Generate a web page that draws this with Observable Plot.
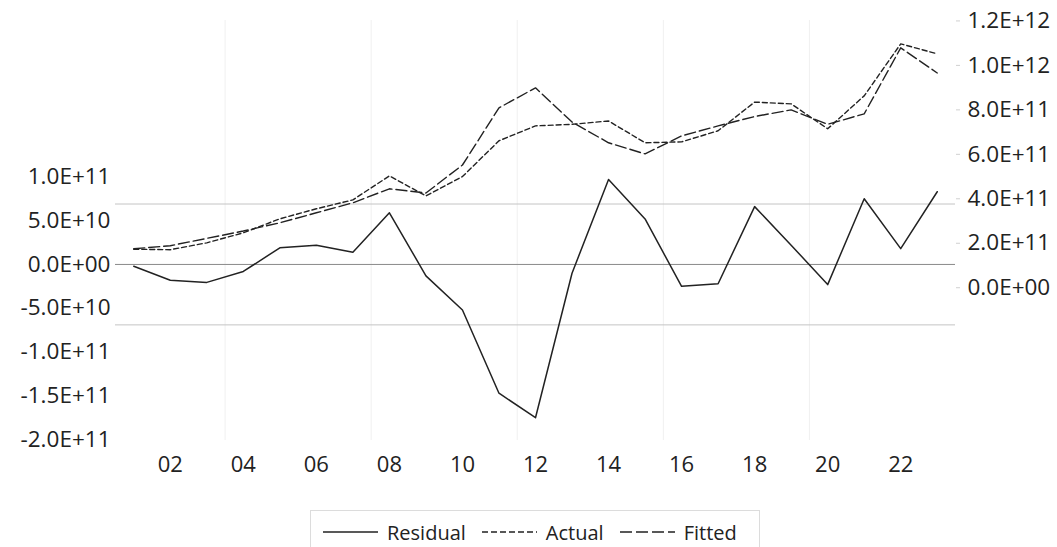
<!DOCTYPE html>
<html>
<head>
<meta charset="utf-8">
<script src="https://cdn.jsdelivr.net/npm/d3@7"></script>
<script src="https://cdn.jsdelivr.net/npm/@observablehq/plot@0.6"></script>
<style>
  body { margin: 0; background: #fff; font-family: "Open Sans", sans-serif; }
  #wrap { position: relative; width: 1057px; height: 547px; overflow: hidden; }
  .legend { position: absolute; left: 310px; top: 510px; width: 450px; height: 44px;
            border: 1px solid #dcdcdc; box-sizing: border-box; display: flex; align-items: center;
            font-size: 20px; color: #222; padding-left: 12px; }
  .legend svg { margin-right: 9px; }
  .legend span.item { display: flex; align-items: center; margin-right: 16px; }
</style>
</head>
<body>
<div id="wrap">
  <div id="chart"></div>
  <div class="legend">
    <span class="item"><svg width="55" height="10"><line x1="0" x2="55" y1="5" y2="5" stroke="#222" stroke-width="1.4"/></svg>Residual</span>
    <span class="item"><svg width="55" height="10"><line x1="0" x2="55" y1="5" y2="5" stroke="#222" stroke-width="1.4" stroke-dasharray="6,3"/></svg>Actual</span>
    <span class="item"><svg width="55" height="10"><line x1="0" x2="55" y1="5" y2="5" stroke="#222" stroke-width="1.4" stroke-dasharray="12,4"/></svg>Fitted</span>
  </div>
</div>
<script>
const years = [2001, 2002, 2003, 2004, 2005, 2006, 2007, 2008, 2009, 2010, 2011, 2012,
               2013, 2014, 2015, 2016, 2017, 2018, 2019, 2020, 2021, 2022, 2023];
const residual = [-2e9, -1.8e10, -2.05e10, -8e9, 1.9e10, 2.2e10, 1.4e10, 5.9e10, -1.3e10, -5.2e10,
                  -1.47e11, -1.75e11, -1.0e10, 9.7e10, 5.2e10, -2.5e10, -2.2e10, 6.6e10, 2.2e10,
                  -2.3e10, 7.5e10, 1.8e10, 8.3e10];
const actual = [1.73e11, 1.71e11, 2.02e11, 2.47e11, 3.1e11, 3.55e11, 3.95e11, 5.03e11, 4.13e11, 5.0e11,
                6.61e11, 7.28e11, 7.35e11, 7.5e11, 6.52e11, 6.56e11, 7.06e11, 8.35e11, 8.27e11,
                7.15e11, 8.63e11, 1.097e12, 1.052e12];
const fitted = [1.75e11, 1.89e11, 2.22e11, 2.55e11, 2.92e11, 3.37e11, 3.82e11, 4.45e11, 4.26e11, 5.52e11,
                8.09e11, 8.99e11, 7.45e11, 6.52e11, 6.02e11, 6.83e11, 7.28e11, 7.7e11, 8.0e11,
                7.35e11, 7.82e11, 1.079e12, 9.66e11];
const xTicks = [2002, 2004, 2006, 2008, 2010, 2012, 2014, 2016, 2018, 2020, 2022];
const gridYears = [2004, 2008, 2012, 2016, 2020];
const leftTicks = [-2e11, -1.5e11, -1e11, -5e10, 0, 5e10, 1e11];
const rightTicks = [0, 2e11, 4e11, 6e11, 8e11, 1e12, 1.2e12];
const seBand = 6.9e10;

// right-axis (Actual/Fitted) to left-axis (Residual) mapping
const rOffset = -2.658e10, rScale = 0.25382;
const toLeft = r => rOffset + r * rScale;
const fromLeft = l => (l - rOffset) / rScale;

function fmt(v) {
  if (Math.abs(v) < 1) return "0.0E+00";
  const s = v < 0 ? "-" : "";
  let a = Math.abs(v);
  let e = Math.floor(Math.log10(a));
  let m = a / Math.pow(10, e);
  if (Math.round(m * 10) / 10 >= 10) { e += 1; m = a / Math.pow(10, e); }
  return s + m.toFixed(1) + "E+" + String(e).padStart(2, "0");
}

const rows = years.map((year, i) => ({year, residual: residual[i], actual: actual[i], fitted: fitted[i]}));

const chart = Plot.plot({
  width: 1057,
  height: 490,
  marginLeft: 115,
  marginRight: 102,
  marginTop: 20,
  marginBottom: 50,
  style: {fontFamily: "'Open Sans', sans-serif", fontSize: "22px", color: "#222", background: "white"},
  x: {domain: [2000.5, 2023.5], label: null},
  y: {domain: [-2.01e11, 2.785e11], label: null},
  marks: [
    Plot.ruleX(gridYears, {x: d => d - 0.5, stroke: "#f0f0f0", strokeWidth: 1}),
    Plot.ruleY([-seBand, seBand], {stroke: "#c4c4c4", strokeWidth: 1}),
    Plot.ruleY([0], {stroke: "#8a8a8a", strokeWidth: 1}),
    Plot.line(rows, {x: "year", y: d => toLeft(d.actual), stroke: "#222", strokeWidth: 1.4, strokeDasharray: "5,3"}),
    Plot.line(rows, {x: "year", y: d => toLeft(d.fitted), stroke: "#222", strokeWidth: 1.4, strokeDasharray: "11,4"}),
    Plot.line(rows, {x: "year", y: "residual", stroke: "#222", strokeWidth: 1.5}),
    Plot.axisX(xTicks, {tickFormat: d => String(d % 100).padStart(2, "0"), tickSize: 0, tickPadding: 16, fontSize: 22, fill: "#222"}),
    Plot.axisY(leftTicks, {anchor: "left", tickFormat: fmt, tickSize: 0, tickPadding: 5, fontSize: 22.5, fill: "#222"}),
    Plot.axisY(rightTicks.map(toLeft), {anchor: "right", tickFormat: d => fmt(Math.round(fromLeft(d) / 1e10) * 1e10),
      tickSize: 4, tickPadding: 8, stroke: "#d0d0d0", fill: "#222", fontSize: 22.5})
  ]
});
document.getElementById("chart").appendChild(chart);
</script>
</body>
</html>
